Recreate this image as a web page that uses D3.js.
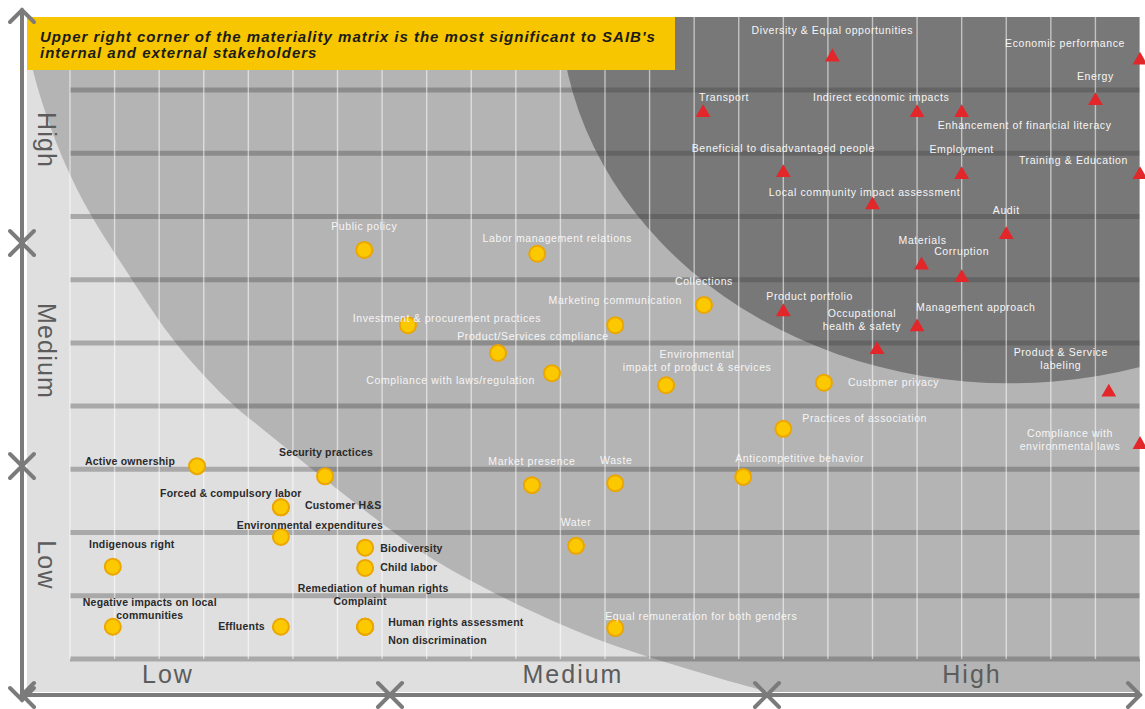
<!DOCTYPE html>
<html>
<head>
<meta charset="utf-8">
<script src="https://cdn.jsdelivr.net/npm/d3@7"></script>
<style>
body { margin: 0; background: #fff; }
svg { display: block; font-family: "Liberation Sans", Arial, sans-serif; }
</style>
</head>
<body>
<svg id="chart" width="1145" height="709"></svg>
<script>
// axis level names
const levels = ["Low", "Medium", "High"];
const banner = ["Upper right corner of the materiality matrix is the most significant to SAIB's",
                "internal and external stakeholders"];

// most material topics (red triangles): x = importance to SAIB, y = importance to stakeholders (grid units)
const keyTopics = ["Diversity & Equal opportunities", "Economic performance", "Energy", "Transport",
    "Indirect economic impacts", "Enhancement of financial literacy", "Beneficial to disadvantaged people",
    "Employment", "Training & Education", "Local community impact assessment", "Audit", "Materials",
    "Corruption", "Product portfolio", "Management approach", "Occupational\nhealth & safety",
    "Product & Service\nlabeling", "Compliance with\nenvironmental laws"];
const keySaib  = [17.1, 24, 23, 14.2, 19, 20, 16, 20, 24, 18, 21, 19.1, 20, 16, 19, 18.1, 23.3, 24];
const keyStake = [9.52, 9.47, 8.83, 8.64, 8.64, 8.64, 7.69, 7.66, 7.66, 7.18, 6.71, 6.23, 6.03, 5.49, 5.25, 4.89, 4.22, 3.39];

// other topics (yellow circles)
const otherTopics = ["Public policy", "Labor management relations", "Investment & procurement practices",
    "Marketing communication", "Collections", "Product/Services compliance", "Compliance with laws/regulation",
    "Environmental\nimpact of product & services", "Customer privacy", "Practices of association",
    "Anticompetitive behavior", "Market presence", "Waste", "Water", "Equal remuneration for both genders",
    "Active ownership", "Security practices", "Forced & compulsory labor", "Customer H&S",
    "Environmental expenditures", "Indigenous right", "Biodiversity", "Child labor",
    "Remediation of human rights", "Complaint", "Human rights assessment", "Non discrimination",
    "Negative impacts on local\ncommunities", "Effluents"];
const otherSaib  = [6.6, 10.48, 7.58, 12.23, 14.22, 9.6, 10.81, 13.37, 16.91, 16, 15.1, 10.36, 12.23, 11.35, 12.23,
    2.85, 5.72, 4.73, 4.73, 4.73, 0.96, 6.62, 6.62, 6.62, 6.62, 6.62, 6.62, 0.96, 4.73];
const otherStake = [6.47, 6.41, 5.28, 5.28, 5.6, 4.84, 4.52, 4.33, 4.37, 3.64, 2.88, 2.75, 2.78, 1.79, 0.49,
    3.05, 2.89, 2.4, 2.4, 1.93, 1.46, 1.76, 1.44, 0.51, 0.51, 0.51, 0.51, 0.51, 0.51];

// edge of the low zone (grid units) and the high zone ellipse
const lowZoneEdge = [[-0.97, 9.7], [-0.67, 8.85], [-0.18, 7.9], [0.45, 7], [1.4, 6], [2.3, 5], [3.65, 4],
    [4.05, 3.8], [5.6, 2.9], [7.25, 2], [8.35, 1.45], [10.9, 0.55], [12.6, 0.1], [15.25, -0.45], [16.4, -0.65]];
const highZone = [21.08, 10.42, 10.1, 6.06]; // centre x, centre y, radius x, radius y

// label placement: dx, dy (px from mark), anchor
const labelAt = {
    "Diversity & Equal opportunities": [0, -27, "middle"],
    "Economic performance": [-15, -17, "end"],
    "Energy": [0, -25, "middle"],
    "Transport": [-4, -16, "start"],
    "Indirect economic impacts": [-36, -16, "middle"],
    "Enhancement of financial literacy": [-24, 12, "start"],
    "Beneficial to disadvantaged people": [0, -25, "middle"],
    "Employment": [0, -26, "middle"],
    "Training & Education": [-12, -15, "end"],
    "Local community impact assessment": [-8, -13, "middle"],
    "Audit": [0, -25, "middle"],
    "Materials": [1, -25, "middle"],
    "Corruption": [0, -27, "middle"],
    "Product portfolio": [-17, -16, "start"],
    "Management approach": [-1, -20, "start"],
    "Occupational\nhealth & safety": [-15, -37, "middle"],
    "Product & Service\nlabeling": [-48, -40, "middle"],
    "Compliance with\nenvironmental laws": [-70, -12, "middle"],
    "Public policy": [0, -24, "middle"],
    "Labor management relations": [20, -16, "middle"],
    "Investment & procurement practices": [39, -7, "middle"],
    "Marketing communication": [0, -25, "middle"],
    "Collections": [0, -24, "middle"],
    "Product/Services compliance": [35, -17, "middle"],
    "Compliance with laws/regulation": [-17, 7, "end"],
    "Environmental\nimpact of product & services": [31, -31, "middle"],
    "Customer privacy": [24, -1, "start"],
    "Practices of association": [19, -11, "start"],
    "Anticompetitive behavior": [-8, -19, "start"],
    "Market presence": [0, -24, "middle"],
    "Waste": [1, -23, "middle"],
    "Water": [0, -24, "middle"],
    "Equal remuneration for both genders": [-10, -12, "start"],
    "Active ownership": [-22, -5, "end"],
    "Security practices": [1, -24, "middle"],
    "Forced & compulsory labor": [-50, -14, "middle"],
    "Customer H&S": [24, -2, "start"],
    "Environmental expenditures": [29, -12, "middle"],
    "Indigenous right": [19, -23, "middle"],
    "Biodiversity": [15, 0, "start"],
    "Child labor": [15, -1, "start"],
    "Remediation of human rights": [8, -39, "middle"],
    "Complaint": [-5, -26, "middle"],
    "Human rights assessment": [23, -5, "start"],
    "Non discrimination": [23, 13, "start"],
    "Negative impacts on local\ncommunities": [37, -25, "middle"],
    "Effluents": [-16, -1, "end"]
};

const svg = d3.select("#chart");
const plot = { left: 27, top: 17, right: 1140, bottom: 692 };
const x = d3.scaleLinear().domain([0, 24]).range([70, 1140]);
const y = d3.scaleLinear().domain([0, 9]).range([659, 90]);
const axisColor = "#7b7b7b";

svg.append("clipPath").attr("id", "plotClip")
    .append("rect")
    .attr("x", plot.left).attr("y", plot.top)
    .attr("width", plot.right - plot.left).attr("height", plot.bottom - plot.top);

/* background zones */
let bg = svg.append("g").attr("clip-path", "url(#plotClip)");
bg.append("rect")
    .attr("x", plot.left).attr("y", plot.top)
    .attr("width", plot.right - plot.left).attr("height", plot.bottom - plot.top)
    .attr("fill", "#b4b4b4");

let edgePx = lowZoneEdge.map(d => [x(d[0]), y(d[1])]);
let lowPoly = edgePx.concat([[plot.left, 710], [plot.left, plot.top]]);
let edgeLine = d3.line().curve(d3.curveBasis);
bg.append("path")
    .attr("d", edgeLine(edgePx) + "L" + plot.left + ",710L" + plot.left + "," + plot.top + "Z")
    .attr("fill", "#dfdfdf");

bg.append("ellipse")
    .attr("cx", x(highZone[0])).attr("cy", y(highZone[1]))
    .attr("rx", x(highZone[2]) - x(0)).attr("ry", y(0) - y(highZone[3]))
    .attr("fill", "#787878");

/* grid */
bg.append("g").selectAll("line")
    .data(d3.range(10))
    .enter().append("line")
    .attr("x1", x(0)).attr("x2", x(24))
    .attr("y1", d => y(d)).attr("y2", d => y(d))
    .attr("stroke", "rgba(60,60,60,0.33)")
    .attr("stroke-width", 5);

bg.append("g").selectAll("line")
    .data(d3.range(25))
    .enter().append("line")
    .attr("x1", d => x(d)).attr("x2", d => x(d))
    .attr("y1", plot.top).attr("y2", y(0))
    .attr("stroke", "#fff")
    .attr("stroke-opacity", 0.55)
    .attr("stroke-width", 1.4);

/* banner */
svg.append("rect")
    .attr("x", plot.left).attr("y", plot.top)
    .attr("width", 648).attr("height", 53)
    .attr("fill", "#f7c600");
svg.append("g").selectAll("text")
    .data(banner)
    .enter().append("text")
    .attr("x", 40).attr("y", (d, i) => 42 + i * 16)
    .attr("font-size", 15).attr("font-weight", "bold").attr("font-style", "italic")
    .attr("letter-spacing", 1)
    .attr("fill", "#1b1b1b")
    .text(d => d);

/* axes: three double headed arrows per axis */
let axes = svg.append("g")
    .attr("stroke", axisColor).attr("stroke-width", 4)
    .attr("fill", "none").attr("stroke-linecap", "round");

const yAxisX = 22, xAxisY = 695;
let yStops = [10, 243, 466, 700];
let xStops = [22, 390, 767, 1140];
const head = 12;

axes.append("line").attr("x1", yAxisX).attr("x2", yAxisX).attr("y1", yStops[0]).attr("y2", yStops[3]);
axes.append("line").attr("x1", xStops[0]).attr("x2", xStops[3]).attr("y1", xAxisY).attr("y2", xAxisY);

for (let i = 0; i < 3; i++)
{
    let a = yStops[i], b = yStops[i + 1];
    axes.append("polyline").attr("points", [[yAxisX - head, a + head], [yAxisX, a], [yAxisX + head, a + head]].join(" "));
    axes.append("polyline").attr("points", [[yAxisX - head, b - head], [yAxisX, b], [yAxisX + head, b - head]].join(" "));
    let c = xStops[i], e = xStops[i + 1];
    axes.append("polyline").attr("points", [[c + head, xAxisY - head], [c, xAxisY], [c + head, xAxisY + head]].join(" "));
    axes.append("polyline").attr("points", [[e - head, xAxisY - head], [e, xAxisY], [e - head, xAxisY + head]].join(" "));
}

// level names
let yLabelPos = [565, 351, 140];
let xLabelPos = [168, 573, 972];
svg.append("g").selectAll("text")
    .data(levels)
    .enter().append("text")
    .attr("transform", (d, i) => "translate(47," + yLabelPos[i] + ") rotate(90)")
    .attr("text-anchor", "middle").attr("dominant-baseline", "central")
    .attr("font-size", 25).attr("letter-spacing", 1.2).attr("fill", "#5c5c5c")
    .text(d => d);
svg.append("g").selectAll("text")
    .data(levels)
    .enter().append("text")
    .attr("x", (d, i) => xLabelPos[i]).attr("y", 683)
    .attr("text-anchor", "middle")
    .attr("font-size", 25).attr("letter-spacing", 2).attr("fill", "#5c5c5c")
    .text(d => d);

/* topics */
let keyData = keyTopics.map((t, i) => ({ name: t, sx: keySaib[i], sy: keyStake[i], key: true }));
let otherData = otherTopics.map((t, i) => ({ name: t, sx: otherSaib[i], sy: otherStake[i], key: false }));

let marks = svg.append("g");
marks.selectAll("circle")
    .data(otherData)
    .enter().append("circle")
    .attr("cx", d => x(d.sx)).attr("cy", d => y(d.sy))
    .attr("r", 8)
    .attr("fill", "#fcc800")
    .attr("stroke", "#eba600")
    .attr("stroke-width", 2);

marks.selectAll("path")
    .data(keyData)
    .enter().append("path")
    .attr("transform", d => "translate(" + x(d.sx) + "," + y(d.sy) + ")")
    .attr("d", d3.symbol(d3.symbolTriangle, 95))
    .attr("fill", "#e3262a");

let labels = svg.append("g").attr("clip-path", "url(#plotClip)");
labels.selectAll("text")
    .data(keyData.concat(otherData))
    .enter().append("text")
    .each(function(d)
    {
        let p = labelAt[d.name];
        let px = x(d.sx), py = y(d.sy);
        let inLow = !d.key && d3.polygonContains(lowPoly, [px - 12, py]);
        let t = d3.select(this)
            .attr("text-anchor", p[2])
            .attr("font-size", 10.5)
            .attr("letter-spacing", inLow ? 0.2 : 0.6)
            .attr("font-weight", inLow ? "bold" : "normal")
            .attr("fill", inLow ? "#2a2a2a" : "#f6f6f6");
        d.name.split("\n").forEach((line, k) => {
            t.append("tspan")
                .attr("x", px + p[0])
                .attr("y", py + p[1] + k * 13)
                .attr("dominant-baseline", "central")
                .text(line);
        });
    });
</script>
</body>
</html>
